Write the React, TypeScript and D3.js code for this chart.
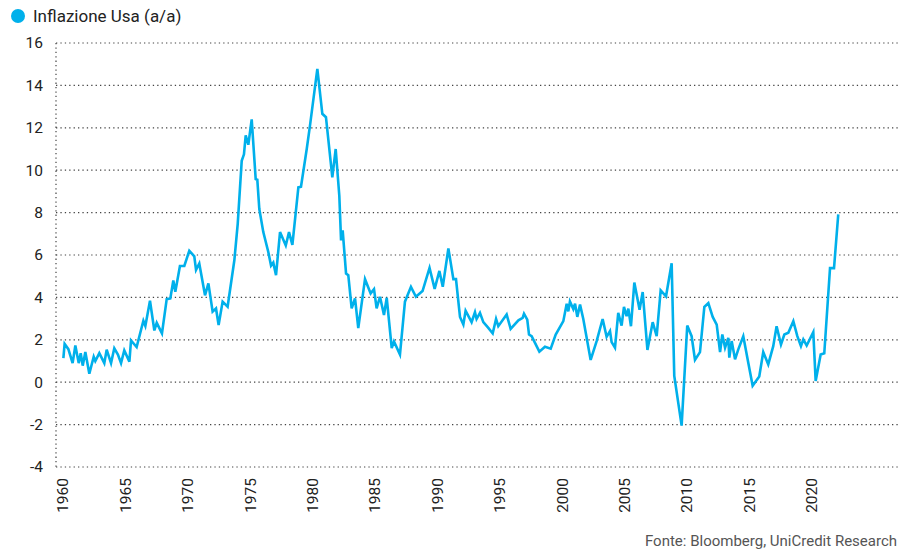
import React from "react";
import * as d3 from "d3";

const YEARS: number[] = [
  1960.03, 1960.13, 1960.43, 1960.77, 1960.99, 1961.26, 1961.42, 1961.58, 1961.79, 1962.11,
  1962.46, 1962.59, 1962.91, 1963.31, 1963.5, 1963.85, 1964.11, 1964.4, 1964.65, 1964.91,
  1965.32, 1965.45, 1965.9, 1966.44, 1966.6, 1966.97, 1967.32, 1967.51, 1967.93, 1968.31,
  1968.6, 1968.84, 1969.0, 1969.37, 1969.72, 1970.12, 1970.52, 1970.66, 1970.92, 1971.38,
  1971.65, 1971.99, 1972.26, 1972.47, 1972.79, 1973.19, 1973.73, 1974.0, 1974.32, 1974.5,
  1974.64, 1974.85, 1975.12, 1975.44, 1975.57, 1975.73, 1976.05, 1976.45, 1976.67, 1976.85,
  1977.07, 1977.39, 1977.85, 1978.11, 1978.38, 1978.86, 1979.07, 1979.53, 1979.79, 1980.38,
  1980.78, 1981.07, 1981.58, 1981.85, 1982.14, 1982.28, 1982.41, 1982.68, 1982.86, 1983.13,
  1983.4, 1983.66, 1984.2, 1984.65, 1984.92, 1985.13, 1985.4, 1985.72, 1985.94, 1986.34,
  1986.52, 1987.0, 1987.4, 1987.88, 1988.28, 1988.81, 1989.37, 1989.78, 1990.16, 1990.43,
  1990.88, 1991.28, 1991.49, 1991.81, 1992.08, 1992.26, 1992.74, 1993.01, 1993.14, 1993.41,
  1993.68, 1994.08, 1994.43, 1994.7, 1994.88, 1995.55, 1995.87, 1996.49, 1996.83, 1996.94,
  1997.2, 1997.34, 1997.55, 1998.17, 1998.62, 1999.08, 1999.48, 2000.09, 2000.36, 2000.49,
  2000.62, 2000.89, 2001.03, 2001.21, 2001.43, 2001.69, 2002.28, 2002.76, 2003.24, 2003.56,
  2003.83, 2003.96, 2004.23, 2004.49, 2004.76, 2004.95, 2005.16, 2005.3, 2005.51, 2005.78,
  2006.2, 2006.45, 2006.83, 2007.25, 2007.57, 2007.89, 2008.32, 2008.77, 2008.98, 2009.57,
  2010.02, 2010.37, 2010.64, 2011.04, 2011.39, 2011.71, 2012.06, 2012.38, 2012.65, 2012.83,
  2013.05, 2013.31, 2013.39, 2013.58, 2013.85, 2014.11, 2014.51, 2014.91, 2015.26, 2015.79,
  2016.11, 2016.51, 2016.91, 2017.18, 2017.53, 2017.8, 2018.12, 2018.52, 2018.84, 2019.13,
  2019.32, 2019.59, 2020.12, 2020.31, 2020.71, 2021.0, 2021.46, 2021.78, 2022.12,
];

const INFLATION: number[] = [
  1.14, 1.81, 1.56, 0.9, 1.73, 0.9, 1.37, 0.78, 1.42, 0.4,
  1.2, 1.0, 1.37, 0.9, 1.53, 0.9, 1.6, 1.3, 0.9, 1.5,
  0.97, 1.97, 1.66, 2.9, 2.65, 3.84, 2.44, 2.8, 2.3, 3.92,
  3.95, 4.8, 4.27, 5.48, 5.48, 6.2, 5.94, 5.3, 5.6, 4.1,
  4.66, 3.33, 3.48, 2.7, 3.8, 3.56, 5.75, 7.47, 10.44, 10.75,
  11.64, 11.2, 12.4, 9.58, 9.55, 8.17, 7.08, 6.14, 5.5, 5.64,
  5.05, 7.08, 6.45, 7.08, 6.48, 9.19, 9.22, 11.0, 12.1, 14.78,
  12.66, 12.5, 9.66, 11.0, 8.8, 6.69, 7.16, 5.13, 5.05, 3.48,
  3.95, 2.55, 4.86, 4.19, 4.39, 3.48, 4.03, 3.17, 3.98, 1.61,
  1.92, 1.3, 3.8, 4.5, 4.03, 4.3, 5.39, 4.4, 5.25, 4.5,
  6.31, 4.86, 4.86, 3.08, 2.72, 3.37, 2.83, 3.3, 2.98, 3.27,
  2.83, 2.56, 2.3, 2.98, 2.64, 3.19, 2.52, 2.92, 3.03, 3.23,
  2.95, 2.25, 2.17, 1.44, 1.67, 1.58, 2.25, 2.88, 3.7, 3.34,
  3.81, 3.45, 3.7, 3.08, 3.66, 2.98, 1.05, 1.94, 2.98, 2.14,
  2.41, 1.89, 1.63, 3.27, 2.67, 3.55, 3.11, 3.47, 2.64, 4.7,
  3.42, 4.25, 1.52, 2.83, 2.17, 4.33, 4.05, 5.61, 0.3, -2.05,
  2.67, 2.17, 1.05, 1.42, 3.55, 3.73, 3.08, 2.72, 1.42, 2.25,
  1.63, 2.09, 1.16, 1.94, 1.08, 1.55, 2.17, 0.92, -0.17, 0.27,
  1.42, 0.84, 1.7, 2.64, 1.78, 2.25, 2.33, 2.88, 2.17, 1.7,
  2.02, 1.73, 2.36, 0.06, 1.31, 1.36, 5.38, 5.38, 7.92,
];

const Y_TICKS: number[] = [-4, -2, 0, 2, 4, 6, 8, 10, 12, 14, 16];
const X_TICKS: number[] = [1960, 1965, 1970, 1975, 1980, 1985, 1990, 1995, 2000, 2005, 2010, 2015, 2020];
const SERIES_NAME = "Inflazione Usa (a/a)";
const SOURCE = "Fonte: Bloomberg, UniCredit Research";

const W = 910;
const H = 554;
const LEFT = 56;
const RIGHT = 898;
const COLOR = "#00B0EB";
const FONT = "Roboto, 'Liberation Sans', sans-serif";

export default function App() {
  const x = d3.scaleLinear().domain([1960, 2020]).range([63, 811.8]);
  const y = d3.scaleLinear().domain([-4, 16]).range([467, 43]);
  const pts: [number, number][] = YEARS.map((yr, i) => [yr, INFLATION[i]]);
  const line = d3
    .line<[number, number]>()
    .x((d) => x(d[0]))
    .y((d) => y(d[1]));

  return (
    <svg
      width={W}
      height={H}
      style={{ position: "absolute", left: 0, top: 0, background: "#fff" }}
      fontFamily={FONT}
    >
      {/* legend */}
      <circle cx={18} cy={16} r={7} fill={COLOR} />
      <text x={33} y={22} fontSize={17} fill="#222">
        {SERIES_NAME}
      </text>

      {/* grid */}
      {Y_TICKS.map((t) => (
        <line
          key={"g" + t}
          x1={LEFT}
          x2={RIGHT}
          y1={y(t)}
          y2={y(t)}
          stroke="#444"
          strokeWidth={1.2}
          strokeDasharray="1.3 3.1"
        />
      ))}
      <line
        x1={LEFT}
        x2={LEFT}
        y1={y(16)}
        y2={y(-4)}
        stroke="#444"
        strokeWidth={1.2}
        strokeDasharray="1.3 3.1"
      />

      {/* y labels */}
      {Y_TICKS.map((t) => (
        <text
          key={"y" + t}
          x={43}
          y={y(t)}
          dy="0.35em"
          textAnchor="end"
          fontSize={15.5}
          fill="#222"
        >
          {t}
        </text>
      ))}

      {/* x labels */}
      {X_TICKS.map((t) => (
        <text
          key={"x" + t}
          transform={`translate(${x(t)},478) rotate(-90)`}
          dy="0.35em"
          textAnchor="end"
          fontSize={15.5}
          fill="#222"
        >
          {t}
        </text>
      ))}

      {/* series */}
      <path
        d={line(pts) || ""}
        fill="none"
        stroke={COLOR}
        strokeWidth={2.6}
        strokeLinejoin="miter"
      />

      {/* source */}
      <text x={897} y={546} textAnchor="end" fontSize={15} fill="#555">
        {SOURCE}
      </text>
    </svg>
  );
}
